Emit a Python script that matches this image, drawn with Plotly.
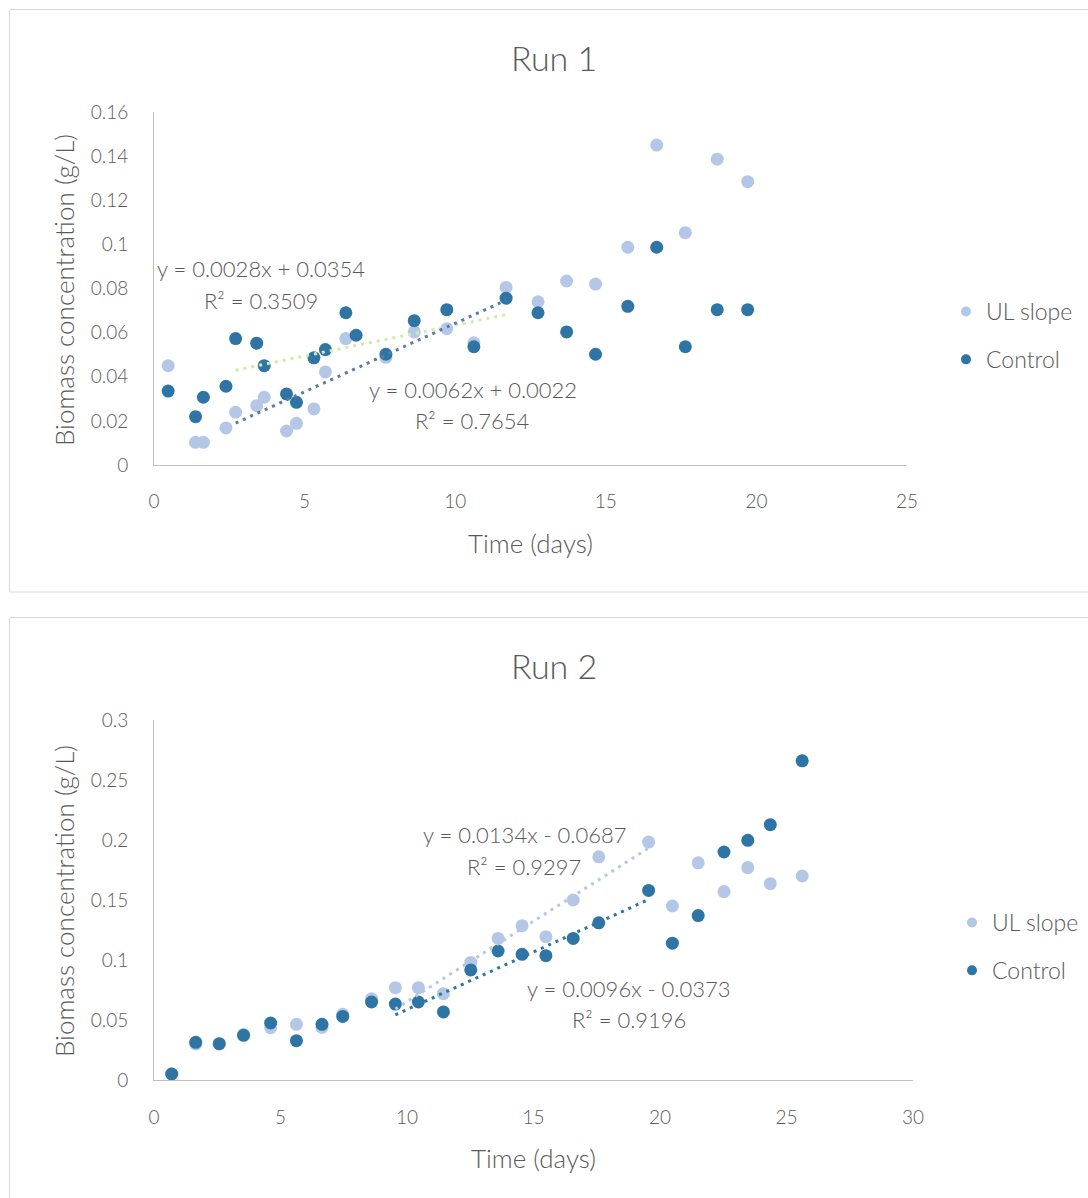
import plotly.graph_objects as go

# ---------------- Data ----------------
# Run 1
days_run1 = [0.47, 1.38, 1.64, 2.39, 2.71, 3.41, 3.66, 4.40, 4.73, 5.31, 5.69, 6.37, 6.71,
             7.70, 8.64, 9.72, 10.62, 11.69, 12.75, 13.70, 14.66, 15.73, 16.69, 17.64, 18.70, 19.71]
ul_slope_run1 = [0.045, 0.0103, 0.0103, 0.0168, 0.0239, 0.0269, 0.0307, 0.0154, 0.0189, 0.0254, 0.0422,
                 0.0573, None, 0.0488, 0.0603, 0.0618, 0.0554, 0.0805, 0.074, 0.0834, 0.082, 0.0987,
                 0.145, 0.1053, 0.1386, 0.1284]
control_run1 = [0.0335, 0.0219, 0.0307, 0.0357, 0.0573, 0.0552, 0.045, 0.0322, 0.0284, 0.0486, 0.0523,
                0.069, 0.0588, 0.0502, 0.0654, 0.0704, 0.0536, 0.0756, 0.069, 0.0603, 0.0502, 0.0719,
                0.0987, 0.0536, 0.0704, 0.0704]
fit_range_run1 = (4, 17)  # indices of first/last point used by trendlines
fit_ul_run1 = (0.0062, 0.0022, "y = 0.0062x + 0.0022", "R² = 0.7654")
fit_ctrl_run1 = (0.0028, 0.0354, "y = 0.0028x + 0.0354", "R² = 0.3509")

# Run 2
days_run2 = [0.70, 1.65, 2.58, 3.54, 4.61, 5.63, 6.64, 7.46, 8.60, 9.54, 10.45, 11.44, 12.52,
             13.60, 14.55, 15.49, 16.57, 17.58, 19.55, 20.49, 21.51, 22.53, 23.47, 24.36, 25.62]
ul_slope_run2 = [0.005, 0.030, 0.030, 0.038, 0.0436, 0.0464, 0.0439, 0.0547, 0.0678, 0.0769, 0.0769,
                 0.0719, 0.098, 0.118, 0.1286, 0.1194, 0.150, 0.186, 0.1983, 0.145, 0.181, 0.157,
                 0.177, 0.1636, 0.170]
control_run2 = [0.005, 0.0314, 0.0303, 0.0372, 0.0475, 0.0328, 0.0464, 0.053, 0.065, 0.0633, 0.065,
                0.0567, 0.0917, 0.1075, 0.1047, 0.1036, 0.118, 0.131, 0.158, 0.114, 0.137, 0.190,
                0.1997, 0.2128, 0.266]
fit_range_run2 = (9, 18)
fit_ul_run2 = (0.0134, -0.0687, "y = 0.0134x - 0.0687", "R² = 0.9297")
fit_ctrl_run2 = (0.0096, -0.0373, "y = 0.0096x - 0.0373", "R² = 0.9196")

x_ticks_run1 = [0, 5, 10, 15, 20, 25]
y_ticks_run1 = [0, 0.02, 0.04, 0.06, 0.08, 0.1, 0.12, 0.14, 0.16]
y_ticktext_run1 = ["0", "0.02", "0.04", "0.06", "0.08", "0.1", "0.12", "0.14", "0.16"]
x_ticks_run2 = [0, 5, 10, 15, 20, 25, 30]
y_ticks_run2 = [0, 0.05, 0.1, 0.15, 0.2, 0.25, 0.3]
y_ticktext_run2 = ["0", "0.05", "0.1", "0.15", "0.2", "0.25", "0.3"]

series_names = ["UL slope", "Control"]

# ---------------- Styles ----------------
W, H = 1088, 1198
FONT = "Segoe UI Light, Lato, Open Sans, sans-serif"
TXT = "#595959"
LIGHT = "#B4C7E7"
DARK = "#2E75A6"
GREEN = "#D0EBAA"
SLATE = "#5B7BA6"
AXIS = "#BFBFBF"


def px_x(p):
    return p / W


def px_y(p):
    return 1 - p / H


fig = go.Figure()


def trend_x(days, rng):
    return [days[rng[0]], days[rng[1]]]


def add_run(days, ul, ctrl, rng, fit_ul, fit_ctrl, col_ul_fit, col_ctrl_fit, xa, ya, leg):
    fig.add_trace(go.Scatter(x=days, y=ul, mode="markers", xaxis=xa, yaxis=ya,
                             marker=dict(color=LIGHT, size=13), showlegend=False, name=series_names[0]))
    fig.add_trace(go.Scatter(x=days, y=ctrl, mode="markers", xaxis=xa, yaxis=ya,
                             marker=dict(color=DARK, size=13), showlegend=False, name=series_names[1]))
    tx = trend_x(days, rng)
    for (m, b, _, _), col in ((fit_ctrl, col_ctrl_fit), (fit_ul, col_ul_fit)):
        fig.add_trace(go.Scatter(x=tx, y=[m * v + b for v in tx], mode="lines", xaxis=xa, yaxis=ya,
                                 line=dict(color=col, width=3, dash="3px,5px"), showlegend=False,
                                 hoverinfo="skip"))
    # legend entries
    for i, (nm, col) in enumerate(zip(series_names, [LIGHT, DARK])):
        fig.add_trace(go.Scatter(x=[None], y=[None], mode="markers", xaxis=xa, yaxis=ya,
                                 marker=dict(color=col, size=10), name=nm, legend=leg,
                                 legendgroup=leg + str(i), showlegend=True))


add_run(days_run1, ul_slope_run1, control_run1, fit_range_run1, fit_ul_run1, fit_ctrl_run1,
        SLATE, GREEN, "x", "y", "legend")
add_run(days_run2, ul_slope_run2, control_run2, fit_range_run2, fit_ul_run2, fit_ctrl_run2,
        LIGHT, DARK, "x2", "y2", "legend2")

axis_common = dict(showgrid=False, zeroline=False, showline=True, linecolor=AXIS, linewidth=1,
                   tickfont=dict(family=FONT, size=19, color=TXT), ticks="outside",
                   tickcolor="rgba(0,0,0,0)", fixedrange=True, automargin=False)

fig.update_layout(
    width=W, height=H, margin=dict(l=0, r=0, t=0, b=0, pad=0, autoexpand=False),
    paper_bgcolor="white", plot_bgcolor="white",
    font=dict(family=FONT, color=TXT, weight=300),
    xaxis=dict(domain=[px_x(154), px_x(907)], range=[0, 25], tickvals=x_ticks_run1,
               anchor="y", ticklen=19, **axis_common),
    yaxis=dict(domain=[px_y(465), px_y(112)], range=[0, 0.16], tickvals=y_ticks_run1,
               ticktext=y_ticktext_run1, anchor="x", ticklen=21, **axis_common),
    xaxis2=dict(domain=[px_x(154), px_x(913)], range=[0, 30], tickvals=x_ticks_run2,
                anchor="y2", ticklen=20, **axis_common),
    yaxis2=dict(domain=[px_y(1080), px_y(720)], range=[0, 0.3], tickvals=y_ticks_run2,
                ticktext=y_ticktext_run2, anchor="x2", ticklen=21, **axis_common),
    legend=dict(x=px_x(946), y=px_y(290), xanchor="left", yanchor="top", bgcolor="rgba(0,0,0,0)",
                font=dict(family=FONT, size=23, color=TXT), tracegroupgap=15, itemclick=False),
    legend2=dict(x=px_x(952), y=px_y(901), xanchor="left", yanchor="top", bgcolor="rgba(0,0,0,0)",
                 font=dict(family=FONT, size=23, color=TXT), tracegroupgap=15, itemclick=False),
)

# Panel borders
fig.add_shape(type="rect", xref="paper", yref="paper", x0=px_x(9.5), x1=px_x(1100),
              y0=px_y(592), y1=px_y(9.5), line=dict(color="#D9D9D9", width=1), layer="below")
fig.add_shape(type="rect", xref="paper", yref="paper", x0=px_x(9.5), x1=px_x(1100),
              y0=px_y(1210), y1=px_y(617.5), line=dict(color="#D9D9D9", width=1), layer="below")


def ann(text, x, y, size, xref="paper", yref="paper", angle=0):
    fig.add_annotation(text=text, x=x, y=y, xref=xref, yref=yref, showarrow=False,
                       xanchor="center", yanchor="middle", textangle=angle,
                       font=dict(family=FONT, size=size, color=TXT))


# Titles
ann("Run 1", px_x(554), px_y(57), 34)
ann("Run 2", px_x(554), px_y(665), 34)
# Axis titles
ann("Time (days)", px_x(530), px_y(543), 26)
ann("Time (days)", px_x(533), px_y(1158), 26)
ann("Biomass concentration (g/L)", px_x(64), px_y(290), 26, angle=-90)
ann("Biomass concentration (g/L)", px_x(64), px_y(901), 26, angle=-90)

# Trendline labels
ann(fit_ctrl_run1[2], px_x(261), px_y(268), 22)
ann(fit_ctrl_run1[3], px_x(261), px_y(300), 22)
ann(fit_ul_run1[2], px_x(473), px_y(389), 22)
ann(fit_ul_run1[3], px_x(472), px_y(421), 22)
ann(fit_ul_run2[2], px_x(524), px_y(834), 22)
ann(fit_ul_run2[3], px_x(524), px_y(866), 22)
ann(fit_ctrl_run2[2], px_x(628), px_y(988), 22)
ann(fit_ctrl_run2[3], px_x(629), px_y(1019), 22)

fig.write_html("out.html")
